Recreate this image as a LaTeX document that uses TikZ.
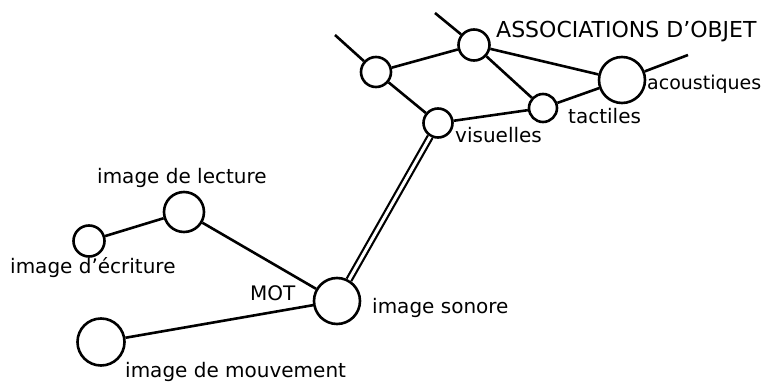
\documentclass[tikz,border=0pt]{standalone}
\usepackage{fontspec}
\setmainfont{DejaVu Sans}

\begin{document}
\begin{tikzpicture}[x=1pt,y=1pt,
		rond/.style={circle,draw,line width=2.6pt,inner sep=0pt},
		mot/.style={font=\fontsize{20}{24}\selectfont,inner sep=0pt,anchor=base west},
		lien/.style={line width=2.6pt}]
		\useasboundingbox (0,0) rectangle (766,381);
		% cercles
		\node[rond,minimum size=46pt] (sonore) at (337,80) {}; %MOT
		\node[rond,minimum size=40pt] (lecture) at (184,169) {};
		\node[rond,minimum size=31pt] (ecriture) at (89,140) {};
		\node[rond,minimum size=47pt] (mouvement) at (101,39) {};
		\node[rond,minimum size=29pt] (visuelles) at (438,258) {};
		\node[rond,minimum size=28pt] (tactiles) at (543,273) {};
		\node[rond,minimum size=46pt] (acoustiques) at (622,301) {};
		\node[rond,minimum size=31pt] (objet) at (474,336) {};
		\node[rond,minimum size=30pt] (gauche) at (376,309) {};
		\coordinate (g0) at (335,346);
		\coordinate (o0) at (435,368);
		\coordinate (a0) at (688,326);
		% textes
		\node[mot,font=\fontsize{22}{26}\selectfont] (tObjet) at (496,343) {ASSOCIATIONS D’OBJET};
		\node[mot,font=\fontsize{19}{23}\selectfont] (tAcou) at (647,291) {acoustiques};
		\node[mot] (tTact) at (568,258) {tactiles};
		\node[mot] (tVis) at (455,239) {visuelles};
		\node[mot] (tLect) at (97,198) {image de lecture};
		\node[mot] (tEcr) at (10,108) {image d’écriture};
		\node[mot] (tMot) at (250,81) {MOT};
		\node[mot] (tSon) at (372,68) {image sonore};
		\node[mot] (tMouv) at (125,4) {image de mouvement};
		% liens
		\draw[lien] (g0) -- (gauche);
		\draw[lien] (o0) -- (objet);
		\draw[lien] (acoustiques) -- (a0);
		\draw[lien] (gauche) -- (objet);
		\draw[lien] (gauche) -- (visuelles);
		\draw[lien] (objet) -- (acoustiques);
		\draw[lien] (objet) -- (tactiles);
		\draw[lien] (visuelles) -- (tactiles);
		\draw[lien] (tactiles) -- (acoustiques);
		\draw[line width=2.2pt,double,double distance=3pt] (visuelles) -- (sonore); %double
		\draw[lien] (sonore) -- (lecture);
		\draw[lien] (lecture) -- (ecriture);
		\draw[lien] (sonore) -- (mouvement);
	\end{tikzpicture}
\end{document}
